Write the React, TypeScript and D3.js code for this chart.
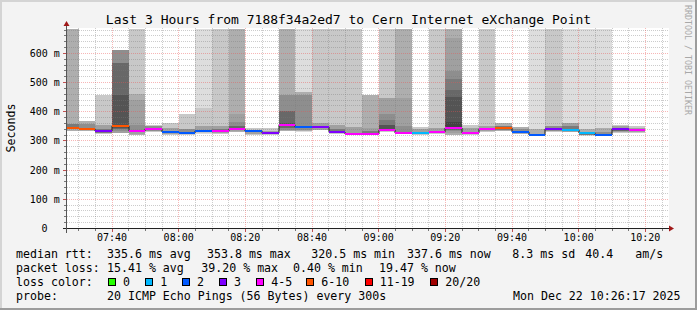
import React from "react";
import * as d3 from "d3";

// ---------- data ----------
const TOP = Infinity;
const titleText = "Last 3 Hours from 7188f34a2ed7 to Cern Internet eXchange Point";
const yAxisTitle = "Seconds";
const sideText = "RRDTOOL / TOBI OETIKER";

const binEnds = [
  "07:30", "07:35", "07:40", "07:45", "07:50", "07:55", "08:00", "08:05", "08:10", "08:15",
  "08:20", "08:25", "08:30", "08:35", "08:40", "08:45", "08:50", "08:55", "09:00", "09:05",
  "09:10", "09:15", "09:20", "09:25", "09:30", "09:35", "09:40", "09:45", "09:50", "09:55",
  "10:00", "10:05", "10:10", "10:15", "10:20",
];

// median rtt in ms per bin
const medians = [
  345, 341, 334, 352, 334, 340, 331, 328, 333, 334,
  340, 334, 328, 353.8, 347, 349, 331, 325, 325, 337,
  328, 328, 331, 345, 328, 341, 346, 332, 322, 340,
  338, 327, 320.5, 340, 337.6,
];

// loss class index per bin (0,1,2,3,4-5,6-10,11-19,20/20)
const lossClass = [
  5, 5, 3, 5, 4, 4, 2, 2, 2, 4,
  4, 2, 3, 4, 2, 3, 3, 4, 4, 4,
  4, 1, 4, 4, 4, 4, 5, 2, 2, 3,
  1, 1, 2, 3, 4,
];

// smoke layers per bin: [low ms, high ms, depth of overlapping layers]
const smoke: [number, number, number][][] = [
  [[334, TOP, 3], [340, 358, 6]],
  [[333, 368, 3], [338, 357, 5]],
  [[324, 459, 2], [326, 354, 4], [328, 340, 6]],
  [[327, 611, 4], [333, 611, 5], [340, 566, 7], [345, 457, 8]],
  [[320, TOP, 2], [322, 460, 3], [325, 440, 4], [330, 355, 5]],
  [[331, 354, 2], [334, 350, 5]],
  [[321, 361, 2], [325, 345, 4]],
  [[320, 394, 2], [325, 340, 5]],
  [[325, TOP, 1], [328, 412, 2], [330, 350, 4]],
  [[323, TOP, 2], [327, 350, 4], [330, 342, 6]],
  [[331, TOP, 3], [335, 392, 4], [337, 365, 5], [339, 350, 7]],
  [[320, 345, 2], [325, 338, 4]],
  [[320, 343, 2], [324, 334, 4]],
  [[333, TOP, 3], [338, 459, 5], [345, 404, 7], [350, 362, 8]],
  [[330, TOP, 1], [335, 468, 3], [338, 457, 5]],
  [[336, TOP, 2], [338, 360, 4]],
  [[324, TOP, 2], [327, 354, 4], [329, 340, 6]],
  [[320, TOP, 2], [322, 348, 4]],
  [[320, 457, 3], [322, 345, 4], [323, 333, 6]],
  [[330, TOP, 2], [333, 448, 4], [335, 394, 5], [336, 371, 6], [337, 354, 8]],
  [[323, TOP, 3], [325, 446, 4], [327, 350, 5]],
  [[322, 348, 2], [325, 340, 4]],
  [[324, TOP, 2], [327, 345, 4]],
  [[320, TOP, 3], [328, 652, 4], [333, 540, 5], [336, 512, 6], [338, 474, 7], [340, 451, 8], [342, 366, 9]],
  [[322, 354, 2], [325, 345, 4]],
  [[330, TOP, 2], [333, 352, 4]],
  [[333, 360, 3], [336, 352, 6]],
  [[325, 349, 3], [328, 342, 5]],
  [[318, TOP, 1], [320, 340, 3]],
  [[331, TOP, 2], [334, 350, 5]],
  [[330, TOP, 1], [332, 360, 4], [335, 350, 6]],
  [[318, TOP, 1], [320, 340, 3], [322, 332, 6]],
  [[316, TOP, 1], [318, 343, 3], [320, 332, 5]],
  [[326, 354, 2], [330, 350, 4], [333, 343, 7]],
  [[329, 351, 2], [331, 346, 4], [333, 340, 7]],
];

const yTickValues = [0, 100, 200, 300, 400, 500, 600];
const xTickLabels = ["07:40", "08:00", "08:20", "08:40", "09:00", "09:20", "09:40", "10:00", "10:20"];

const lossLabels = ["0", "1", "2", "3", "4-5", "6-10", "11-19", "20/20"];
const lossColors = ["#26ff00", "#00b8ff", "#0059ff", "#7e00ff", "#ff00ff", "#ff5500", "#ff0000", "#a00000"];

const rttLabel = "median rtt:";
const rttStats = ["335.6 ms avg", "353.8 ms max", "320.5 ms min", "337.6 ms now", "8.3 ms sd", "40.4", "am/s"];
const lossLabel = "packet loss:";
const lossStats = ["15.41 % avg", "39.20 % max", "0.40 % min", "19.47 % now"];
const lossColorLabel = "loss color:";
const probeLabel = "probe:";
const probeText = "20 ICMP Echo Pings (56 Bytes) every 300s";
const dateText = "Mon Dec 22 10:26:17 2025";

// ---------- helpers ----------
const toDate = (hm: string) => {
  const [h, m] = hm.split(":").map(Number);
  return new Date(2025, 11, 22, h, m, 0);
};

const shadeLevels = [255, 221, 200, 174, 160, 142, 122, 104, 84, 66];
const shade = (d: number) => {
  const g = shadeLevels[Math.max(0, Math.min(9, d))];
  return `rgb(${g},${g},${g})`;
};

export default function App() {
  const W = 697;
  const H = 310;
  const plotLeft = 67;
  const plotRight = 667;
  const canvasRight = 669;
  const yBottom = 228.5;
  const yTopPx = 28.5;
  const yMax = 685.7;

  const start = new Date(2025, 11, 22, 7, 26, 30);
  const end = new Date(2025, 11, 22, 10, 26, 30);
  const x = d3.scaleTime().domain([start, end]).range([plotLeft, plotRight]);
  const y = d3.scaleLinear().domain([0, yMax]).range([yBottom, yTopPx]).clamp(true);

  const bins = binEnds.map((e, i) => {
    const s = i === 0 ? start : toDate(binEnds[i - 1]);
    return { s, e: toDate(e), i };
  });

  const yv = (v: number) => y(Math.min(v, yMax));

  // grid values
  const minorY = d3.range(20, 690, 20).filter((v) => v % 100 !== 0 && v <= yMax);
  const majorY = yTickValues.filter((v) => v > 0);
  const minorX = d3.timeMinute.every(5)!.range(start, end).filter((t) => t.getMinutes() % 20 !== 0);
  const majorX = d3.timeMinute.every(20)!.range(start, end);

  const snapH = (v: number) => Math.floor(v) + 0.5;

  // median step line
  const stepPts: [number, number][] = bins.map((b) => [Math.round(x(b.s)), Math.round(y(medians[b.i]))]);
  const last = bins[bins.length - 1];
  stepPts.push([Math.round(x(last.e)), Math.round(y(medians[last.i]))]);
  const stepPath = d3.line().curve(d3.curveStepAfter)(stepPts) || "";

  const legendFont = 11.6;
  const rowY = [257.7, 271.7, 285.7, 299.7];
  const rttX = [107, 207, 311.3, 407, 512.3, 585.3, 635.3];
  const lossX = [107, 201.3, 293, 379];
  const boxX = [108.5, 145.5, 182.5, 219.5, 256.5, 306.5, 365.5, 430.5];
  const boxLabelX = [123, 160.3, 197, 234, 271.3, 321.3, 379.7, 445.3];

  const minorColor = "rgba(120,120,120,0.38)";
  const majorColor = "rgba(235,80,80,0.42)";

  return (
    <svg
      width={W}
      height={H}
      style={{ position: "absolute", left: 0, top: 0 }}
      fontFamily="'DejaVu Sans Mono', monospace"
    >
      <rect x={0} y={0} width={W} height={H} fill="#f3f3f3" />
      {/* frame */}
      <rect x={0} y={0} width={W} height={2} fill="#d4d4d4" />
      <rect x={0} y={0} width={2} height={H} fill="#d4d4d4" />
      <rect x={0} y={H - 2} width={W} height={2} fill="#9c9c9c" />
      <rect x={W - 2} y={0} width={2} height={H} fill="#9c9c9c" />

      {/* canvas */}
      <rect x={plotLeft} y={28} width={canvasRight - plotLeft} height={200.5} fill="#ffffff" />

      {/* smoke */}
      <g>
        {bins.map((b) => {
          const xa = Math.round(x(b.s));
          const xb = Math.round(x(b.e));
          return smoke[b.i].map(([lo, hi, d], k) => {
            const ya = Math.round(yv(hi));
            const yb = Math.round(yv(lo));
            return (
              <rect key={`${b.i}-${k}`} x={xa} y={ya} width={xb - xa} height={Math.max(0, yb - ya)} fill={shade(d)} />
            );
          });
        })}
      </g>

      {/* grid */}
      <g strokeWidth={1} strokeDasharray="1,1" shapeRendering="crispEdges">
        {minorY.map((v) => (
          <line key={`my${v}`} x1={plotLeft} x2={canvasRight} y1={snapH(y(v))} y2={snapH(y(v))} stroke={minorColor} />
        ))}
        {minorX.map((t) => (
          <line key={`mx${+t}`} x1={snapH(x(t))} x2={snapH(x(t))} y1={28} y2={228} stroke={minorColor} />
        ))}
        {majorY.map((v) => (
          <line key={`My${v}`} x1={plotLeft} x2={canvasRight} y1={snapH(y(v))} y2={snapH(y(v))} stroke={majorColor} />
        ))}
        {majorX.map((t) => (
          <line key={`Mx${+t}`} x1={snapH(x(t))} x2={snapH(x(t))} y1={28} y2={228} stroke={majorColor} />
        ))}
      </g>

      {/* ticks */}
      <g shapeRendering="crispEdges">
        {minorY.map((v) => (
          <line key={`ty${v}`} x1={64} x2={67} y1={snapH(y(v))} y2={snapH(y(v))} stroke="#777" />
        ))}
        {majorY.map((v) => (
          <line key={`tY${v}`} x1={63} x2={67} y1={snapH(y(v))} y2={snapH(y(v))} stroke="#c05050" />
        ))}
        {minorX.map((t) => (
          <line key={`tx${+t}`} x1={snapH(x(t))} x2={snapH(x(t))} y1={229} y2={231} stroke="#777" />
        ))}
        {majorX.map((t) => (
          <line key={`tX${+t}`} x1={snapH(x(t))} x2={snapH(x(t))} y1={229} y2={232} stroke="#c05050" />
        ))}
      </g>

      {/* median step line */}
      <path d={stepPath} fill="none" stroke="#202020" strokeWidth={1} />
      {/* loss-coloured median segments */}
      <g>
        {bins.map((b) => {
          const xa = Math.round(x(b.s));
          const xb = Math.round(x(b.e));
          const ym = Math.round(y(medians[b.i]));
          return <rect key={`m${b.i}`} x={xa} y={ym - 1} width={xb - xa} height={2} fill={lossColors[lossClass[b.i]]} />;
        })}
      </g>

      {/* axes */}
      <g shapeRendering="crispEdges">
        <line x1={63} x2={670} y1={228.5} y2={228.5} stroke="#222" />
        <line x1={66.5} x2={66.5} y1={233} y2={25} stroke="#555" />
      </g>
      <path d="M669,225.5 L674,228.5 L669,231.5 Z" fill="#a01818" />
      <path d="M63.5,26 L66.5,21 L69.5,26 Z" fill="#a01818" />

      {/* y tick labels */}
      <g fontSize={10} fill="#000">
        {yTickValues.map((v) =>
          v === 0 ? (
            <text key={`yl${v}`} x={47.5} y={snapH(y(v)) + 3.5} textAnchor="end">0</text>
          ) : (
            <text key={`yl${v}`} x={59.8} y={snapH(y(v)) + 3.5} textAnchor="end">{`${v} m`}</text>
          )
        )}
      </g>
      {/* x tick labels */}
      <g fontSize={10} fill="#000">
        {xTickLabels.map((l) => (
          <text key={`xl${l}`} x={x(toDate(l))} y={240.6} textAnchor="middle">{l}</text>
        ))}
      </g>

      {/* title */}
      <text x={348.5} y={24} fontSize={13} textAnchor="middle" fill="#000">{titleText}</text>
      {/* y axis title */}
      <text transform="translate(15,128) rotate(-90)" fontSize={legendFont} textAnchor="middle" fill="#000">{yAxisTitle}</text>
      {/* side watermark */}
      <text transform="translate(684.5,5) rotate(90)" fontSize={8.3} fill="#a8a8a8">{sideText}</text>

      {/* legend */}
      <g fontSize={legendFont} fill="#000" style={{ whiteSpace: "pre" }}>
        <text x={16} y={rowY[0]}>{rttLabel}</text>
        {rttStats.map((s, i) => (
          <text key={`r${i}`} x={rttX[i]} y={rowY[0]}>{s}</text>
        ))}
        <text x={16} y={rowY[1]}>{lossLabel}</text>
        {lossStats.map((s, i) => (
          <text key={`l${i}`} x={lossX[i]} y={rowY[1]}>{s}</text>
        ))}
        <text x={16} y={rowY[2]}>{lossColorLabel}</text>
        {lossLabels.map((s, i) => (
          <g key={`lc${i}`}>
            <rect x={boxX[i]} y={278.5} width={7} height={7} fill={lossColors[i]} stroke="#000" strokeWidth={1} shapeRendering="crispEdges" />
            <text x={boxLabelX[i]} y={rowY[2]}>{s}</text>
          </g>
        ))}
        <text x={16} y={rowY[3]}>{probeLabel}</text>
        <text x={107} y={rowY[3]}>{probeText}</text>
        <text x={513} y={rowY[3]}>{dateText}</text>
      </g>
    </svg>
  );
}
